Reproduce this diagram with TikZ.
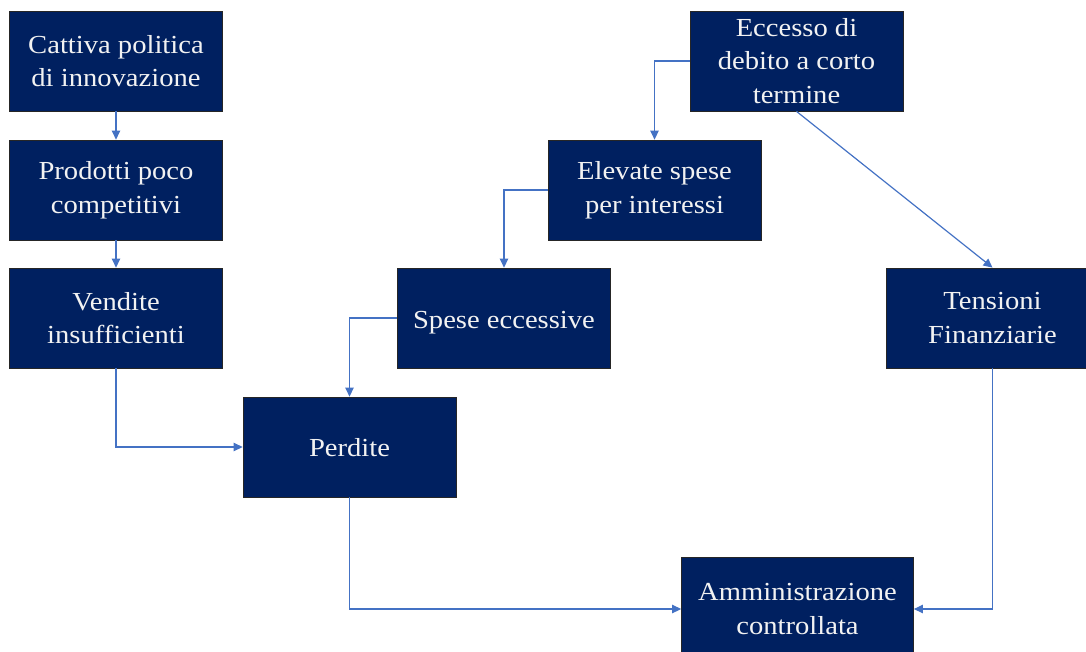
\documentclass[tikz,border=0pt]{standalone}
\usepackage{fontspec}
\setmainfont[FakeStretch=1.1]{Liberation Serif}
\usetikzlibrary{arrows.meta}
\definecolor{boxnavy}{HTML}{002060}
\definecolor{linkblue}{HTML}{4472C4}
\definecolor{boxtext}{HTML}{F2F2F2}
\tikzset{
  causebox/.style={draw=black!85, line width=0.8pt, fill=boxnavy, text=boxtext,
    minimum width=213pt, minimum height=100pt, inner sep=2pt, align=center,
    font=\fontsize{26pt}{33.5pt}\selectfont},
  link/.style={draw=linkblue, line width=1.2pt,
    -{Triangle[width=8.5pt,length=9pt]}}
}
\begin{document}
\begin{tikzpicture}[x=1pt,y=-1pt]
\useasboundingbox (0,0) rectangle (1086,652);
\clip (0,0) rectangle (1086,652);
% left column
\node[causebox] (cat)  at (116,61)  {Cattiva politica\\di innovazione};
\node[causebox] (prod) at (116,190) {Prodotti poco\\competitivi};
\node[causebox] (vend) at (116,318) {Vendite\\insufficienti};
\node[causebox, text height=20pt] (perd) at (349.5,447) {Perdite};
% staircase of costs
\node[causebox, text height=27pt] (spese) at (504,318) {Spese eccessive};
\node[causebox] (elev)  at (654.5,190) {Elevate spese\\per interessi};
\node[causebox] (ecc)   at (796.5,61) {Eccesso di\\debito a corto\\termine};
% right branch
\node[causebox] (tens)  at (992.5,318) {Tensioni\\Finanziarie};
\node[causebox, minimum width=232pt, minimum height=104pt] (amm) at (797.5,609) {Amministrazione\\controllata};
% connectors
\draw[link] (cat.south) -- (prod.north);
\draw[link] (prod.south) -- (vend.north);
\draw[link] (vend.south) |- (perd.west);
\draw[link] (spese.west) -| (perd.north);
\draw[link] (elev.west) -| (spese.north);
\draw[link] (ecc.west) -| (elev.north);
\draw[link] (ecc.south) -- (tens.north);
\draw[link] (tens.south) |- (amm.east);
\draw[link] (perd.south) |- (amm.west);
\end{tikzpicture}
\end{document}
